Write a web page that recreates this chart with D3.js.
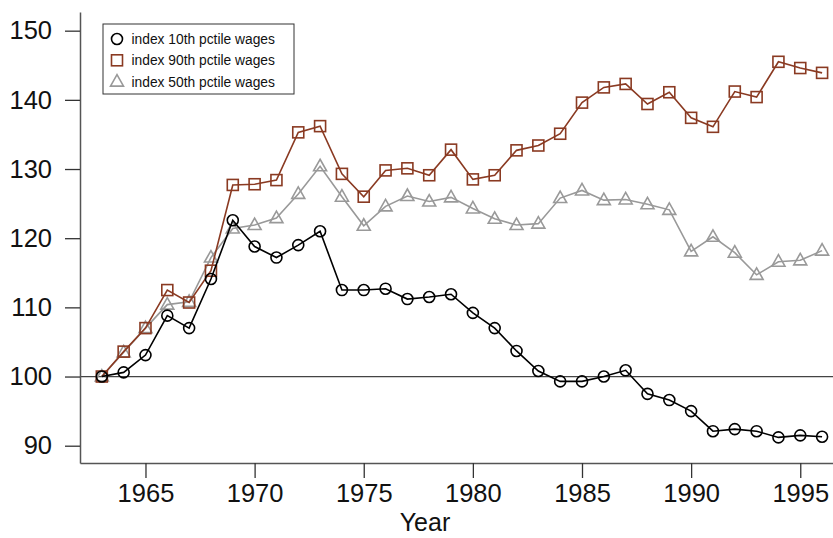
<!DOCTYPE html>
<html><head><meta charset="utf-8">
<script src="https://cdn.jsdelivr.net/npm/d3@7"></script>
<style>body{margin:0;background:#fff}svg{display:block}text{font-family:"Liberation Sans",Arial,sans-serif}</style>
</head><body><svg id="c" width="833" height="538"></svg>
<script>
const years = d3.range(1963, 1997);
const p10 = [100,100.6,103.1,108.8,107.0,114.1,122.6,118.8,117.2,119.0,121.0,112.5,112.5,112.7,111.2,111.5,111.9,109.2,107.0,103.7,100.8,99.3,99.3,100.0,100.9,97.5,96.6,95.0,92.1,92.4,92.1,91.2,91.5,91.3];
const p90 = [100,103.6,107.0,112.5,110.7,115.3,127.7,127.8,128.4,135.3,136.2,129.3,126.0,129.8,130.1,129.1,132.8,128.5,129.1,132.7,133.4,135.1,139.6,141.8,142.3,139.4,141.1,137.4,136.1,141.2,140.4,145.5,144.6,143.9];
const p50 = [100,103.5,107.0,110.4,110.8,117.2,121.4,121.9,122.9,126.4,130.4,126.0,121.8,124.6,126.1,125.3,125.9,124.3,122.8,121.9,122.1,125.8,126.9,125.5,125.6,124.9,124.1,118.1,120.2,117.9,114.7,116.6,116.8,118.2];
const yTicks = [90,100,110,120,130,140,150];
const xTicks = [1965,1970,1975,1980,1985,1990,1995];
const legendLabels = ["index 10th pctile wages","index 90th pctile wages","index 50th pctile wages"];

const svg = d3.select("#c");
const x = d3.scaleLinear().domain([1962, 1996.5]).range([80, 833]);
const y = d3.scaleLinear().domain([87.5, 152.7]).range([463, 12]);
const axisCol = "#555";

// reference line at 100
svg.append("line").attr("x1", 80).attr("x2", 833).attr("y1", y(100)).attr("y2", y(100))
  .attr("stroke", "#444").attr("stroke-width", 1.3);

// axes
const ya = svg.append("g").attr("transform", "translate(80,0)")
  .call(d3.axisLeft(y).tickValues(yTicks).tickSize(15).tickPadding(13).tickSizeOuter(0));
const xa = svg.append("g").attr("transform", "translate(0,463)")
  .call(d3.axisBottom(x).tickValues(xTicks).tickFormat(d3.format("d")).tickSize(15).tickPadding(5.5).tickSizeOuter(0));
[ya, xa].forEach(g => {
  g.select(".domain").attr("stroke", axisCol).attr("stroke-width", 1.5);
  g.selectAll(".tick line").attr("stroke", "#333").attr("stroke-width", 1.3);
  g.selectAll("text").attr("font-size", 25.5).attr("fill", "#111")
    .attr("font-family", "'Liberation Sans', Arial, sans-serif");
});
svg.append("text").attr("x", 425).attr("y", 531).attr("text-anchor", "middle")
  .attr("font-size", 25).attr("fill", "#111").text("Year");

const series = [
  {vals: p50, col: "#999999", shape: "tri"},
  {vals: p90, col: "#8a3a22", shape: "sq"},
  {vals: p10, col: "#000000", shape: "circ"}
];
const line = d3.line().x((d, i) => x(years[i])).y(d => y(d));
function marker(g, shape, col, cx, cy) {
  if (shape === "circ") g.append("circle").attr("cx", cx).attr("cy", cy).attr("r", 5.5)
    .attr("fill", "none").attr("stroke", col).attr("stroke-width", 1.6);
  else if (shape === "sq") g.append("rect").attr("x", cx - 5.5).attr("y", cy - 5.5).attr("width", 11).attr("height", 11)
    .attr("fill", "none").attr("stroke", col).attr("stroke-width", 1.6);
  else g.append("path").attr("d", `M${cx},${cy - 7}L${cx + 6.5},${cy + 4.5}L${cx - 6.5},${cy + 4.5}Z`)
    .attr("fill", "none").attr("stroke", col).attr("stroke-width", 1.6);
}
series.forEach(s => {
  svg.append("path").datum(s.vals).attr("d", line).attr("fill", "none")
    .attr("stroke", s.col).attr("stroke-width", 1.6);
  const g = svg.append("g");
  s.vals.forEach((v, i) => marker(g, s.shape, s.col, x(years[i]), y(v)));
});

// legend
const lg = svg.append("g");
lg.append("rect").attr("x", 103).attr("y", 24).attr("width", 191).attr("height", 70)
  .attr("fill", "#fff").attr("stroke", "#333").attr("stroke-width", 1);
const legShapes = [["circ", "#000000"], ["sq", "#8a3a22"], ["tri", "#999999"]];
legendLabels.forEach((t, i) => {
  const cy = 39 + i * 21.3;
  marker(lg, legShapes[i][0], legShapes[i][1], 117, cy);
  lg.append("text").attr("x", 131.5).attr("y", cy + 5).attr("font-size", 13.8).attr("fill", "#111").text(t);
});
</script></body></html>
